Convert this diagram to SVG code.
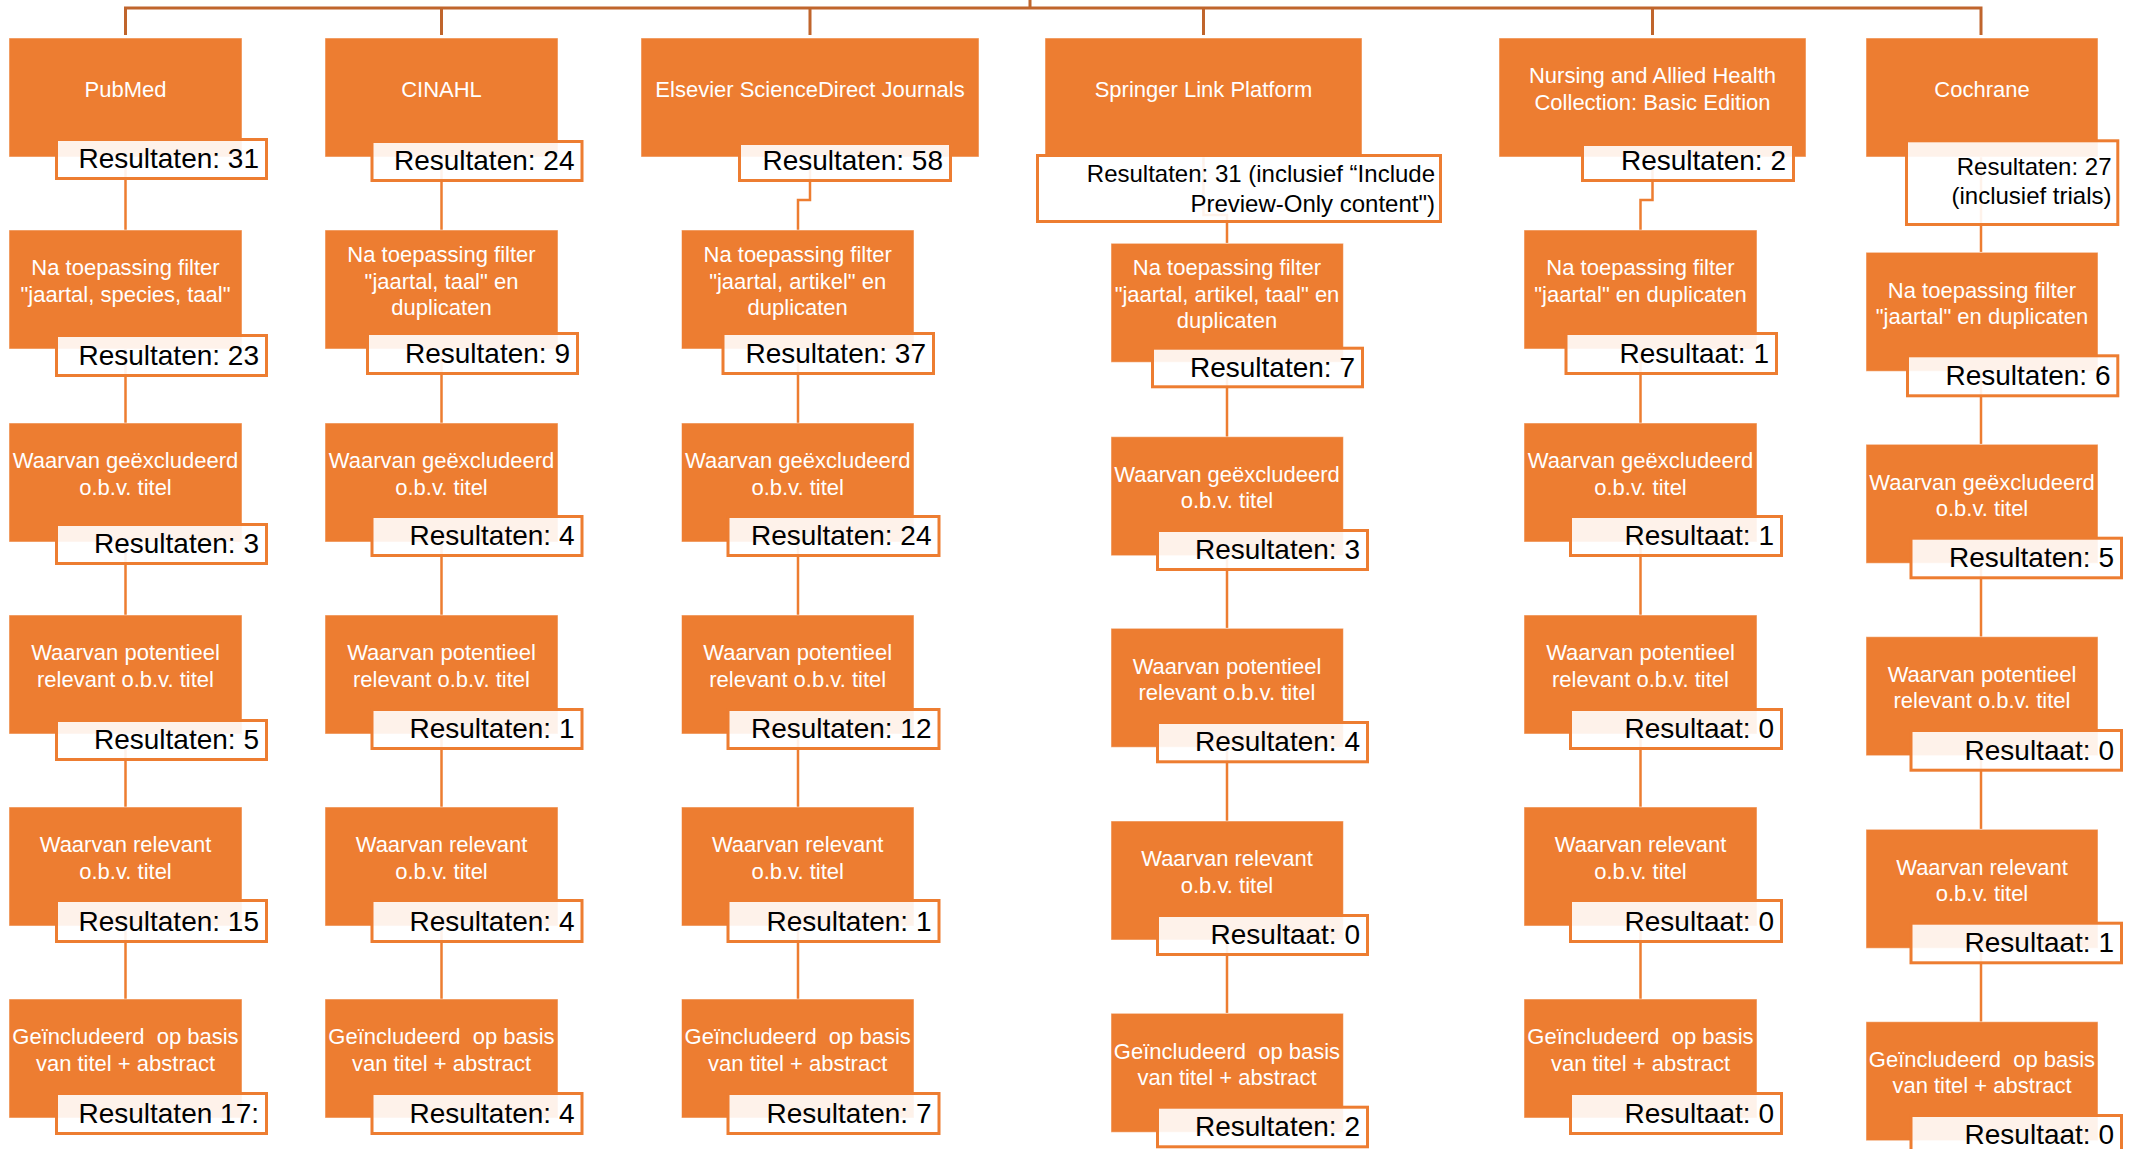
<svg xmlns="http://www.w3.org/2000/svg" width="2141" height="1149" viewBox="0 0 2141 1149">
<style>
.bg{fill:#fff}
.box{fill:#ED7D31;stroke:#fff;stroke-opacity:.5;stroke-width:1}
.res{fill:#fff;fill-opacity:.9;stroke:#ED7D31;stroke-width:3}
.lbl{font-family:"Liberation Sans",Arial,sans-serif;font-size:22px;fill:#fff;text-anchor:middle;white-space:pre}
.rt{font-family:"Liberation Sans",Arial,sans-serif;font-size:28px;fill:#000;text-anchor:end}
.rs{font-size:24px}
.conn{stroke:#ED7D31;stroke-width:2.5;fill:none}
.tree{stroke:#C0652C;stroke-width:3;fill:none}
</style>
<rect class="bg" x="0" y="0" width="2141" height="1149"/>
<g id="connectors">
<path class="tree" d="M1030 0V8M125.5 35V8H1981V35M441.5 8V35M810 8V35M1203.5 8V35M1652.5 8V35"/>
<path class="conn" d="M125.5 157V230M125.5 349V423M125.5 542V615M125.5 734V807M125.5 926V999"/>
<path class="conn" d="M441.5 157V230M441.5 349V423M441.5 542V615M441.5 734V807M441.5 926V999"/>
<path class="conn" d="M810 157V200H798V230M798 349V423M798 542V615M798 734V807M798 926V999"/>
<path class="conn" d="M1203.5 157V215H1227V243M1227 362V437M1227 556V628M1227 747V821M1227 940V1013"/>
<path class="conn" d="M1652.5 157V200H1640.5V230M1640.5 349V423M1640.5 542V615M1640.5 734V807M1640.5 926V999"/>
<path class="conn" d="M1981 157V252M1981 371V444M1981 563V637M1981 756V829M1981 948V1022"/>
</g>

<!-- Column 1: PubMed -->
<g id="pubmed">
<rect class="box" x="9" y="38" width="233" height="119"/>
<text class="lbl" x="125.5" y="96.5">PubMed</text>
<rect class="res" x="56.5" y="139.5" width="210" height="39"/>
<text class="rt" x="259" y="168">Resultaten: 31</text>
</g>
<g id="pubmed-filter">
<rect class="box" x="9" y="230" width="233" height="119"/>
<text class="lbl" x="125.5" y="275.25">Na toepassing filter</text>
<text class="lbl" x="125.5" y="301.75">"jaartal, species, taal"</text>
<rect class="res" x="56.5" y="335.5" width="210" height="40"/>
<text class="rt" x="259" y="365">Resultaten: 23</text>
</g>
<g id="pubmed-excl">
<rect class="box" x="9" y="423" width="233" height="119"/>
<text class="lbl" x="125.5" y="468.25">Waarvan geëxcludeerd</text>
<text class="lbl" x="125.5" y="494.75">o.b.v. titel</text>
<rect class="res" x="56.5" y="524.5" width="210" height="39"/>
<text class="rt" x="259" y="553">Resultaten: 3</text>
</g>
<g id="pubmed-pot">
<rect class="box" x="9" y="615" width="233" height="119"/>
<text class="lbl" x="125.5" y="660.25">Waarvan potentieel</text>
<text class="lbl" x="125.5" y="686.75">relevant o.b.v. titel</text>
<rect class="res" x="56.5" y="720.5" width="210" height="39"/>
<text class="rt" x="259" y="749">Resultaten: 5</text>
</g>
<g id="pubmed-rel">
<rect class="box" x="9" y="807" width="233" height="119"/>
<text class="lbl" x="125.5" y="852.25">Waarvan relevant</text>
<text class="lbl" x="125.5" y="878.75">o.b.v. titel</text>
<rect class="res" x="56.5" y="900.5" width="210" height="41"/>
<text class="rt" x="259" y="931">Resultaten: 15</text>
</g>
<g id="pubmed-incl">
<rect class="box" x="9" y="999" width="233" height="119"/>
<text class="lbl" x="125.5" y="1044.25">Geïncludeerd  op basis</text>
<text class="lbl" x="125.5" y="1070.75">van titel + abstract</text>
<rect class="res" x="56.5" y="1093.5" width="210" height="40"/>
<text class="rt" x="259" y="1123">Resultaten 17:</text>
</g>

<!-- Column 2: CINAHL -->
<g id="cinahl">
<rect class="box" x="325" y="38" width="233" height="119"/>
<text class="lbl" x="441.5" y="96.5">CINAHL</text>
<rect class="res" x="372" y="141.5" width="210" height="39"/>
<text class="rt" x="574.5" y="170">Resultaten: 24</text>
</g>
<g id="cinahl-filter">
<rect class="box" x="325" y="230" width="233" height="119"/>
<text class="lbl" x="441.5" y="262">Na toepassing filter</text>
<text class="lbl" x="441.5" y="288.5">"jaartal, taal" en</text>
<text class="lbl" x="441.5" y="315">duplicaten</text>
<rect class="res" x="367.5" y="333.5" width="210" height="40"/>
<text class="rt" x="570" y="363">Resultaten: 9</text>
</g>
<g id="cinahl-excl">
<rect class="box" x="325" y="423" width="233" height="119"/>
<text class="lbl" x="441.5" y="468.25">Waarvan geëxcludeerd</text>
<text class="lbl" x="441.5" y="494.75">o.b.v. titel</text>
<rect class="res" x="372" y="516.5" width="210" height="39"/>
<text class="rt" x="574.5" y="545">Resultaten: 4</text>
</g>
<g id="cinahl-pot">
<rect class="box" x="325" y="615" width="233" height="119"/>
<text class="lbl" x="441.5" y="660.25">Waarvan potentieel</text>
<text class="lbl" x="441.5" y="686.75">relevant o.b.v. titel</text>
<rect class="res" x="372" y="709.5" width="210" height="39"/>
<text class="rt" x="574.5" y="738">Resultaten: 1</text>
</g>
<g id="cinahl-rel">
<rect class="box" x="325" y="807" width="233" height="119"/>
<text class="lbl" x="441.5" y="852.25">Waarvan relevant</text>
<text class="lbl" x="441.5" y="878.75">o.b.v. titel</text>
<rect class="res" x="372" y="900.5" width="210" height="41"/>
<text class="rt" x="574.5" y="931">Resultaten: 4</text>
</g>
<g id="cinahl-incl">
<rect class="box" x="325" y="999" width="233" height="119"/>
<text class="lbl" x="441.5" y="1044.25">Geïncludeerd  op basis</text>
<text class="lbl" x="441.5" y="1070.75">van titel + abstract</text>
<rect class="res" x="372" y="1093.5" width="210" height="40"/>
<text class="rt" x="574.5" y="1123">Resultaten: 4</text>
</g>

<!-- Column 3: Elsevier -->
<g id="elsevier">
<rect class="box" x="641" y="38" width="338" height="119"/>
<text class="lbl" x="810" y="96.5">Elsevier ScienceDirect Journals</text>
<rect class="res" x="739.5" y="143.5" width="211" height="37"/>
<text class="rt" x="943" y="170">Resultaten: 58</text>
</g>
<g id="elsevier-filter">
<rect class="box" x="681.5" y="230" width="232.5" height="119"/>
<text class="lbl" x="797.7" y="262">Na toepassing filter</text>
<text class="lbl" x="797.7" y="288.5">"jaartal, artikel" en</text>
<text class="lbl" x="797.7" y="315">duplicaten</text>
<rect class="res" x="723" y="333.5" width="210.5" height="40"/>
<text class="rt" x="926" y="363">Resultaten: 37</text>
</g>
<g id="elsevier-excl">
<rect class="box" x="681.5" y="423" width="232.5" height="119"/>
<text class="lbl" x="797.7" y="468.25">Waarvan geëxcludeerd</text>
<text class="lbl" x="797.7" y="494.75">o.b.v. titel</text>
<rect class="res" x="728" y="516.5" width="211" height="39"/>
<text class="rt" x="931.5" y="545">Resultaten: 24</text>
</g>
<g id="elsevier-pot">
<rect class="box" x="681.5" y="615" width="232.5" height="119"/>
<text class="lbl" x="797.7" y="660.25">Waarvan potentieel</text>
<text class="lbl" x="797.7" y="686.75">relevant o.b.v. titel</text>
<rect class="res" x="728" y="709.5" width="211" height="39"/>
<text class="rt" x="931.5" y="738">Resultaten: 12</text>
</g>
<g id="elsevier-rel">
<rect class="box" x="681.5" y="807" width="232.5" height="119"/>
<text class="lbl" x="797.7" y="852.25">Waarvan relevant</text>
<text class="lbl" x="797.7" y="878.75">o.b.v. titel</text>
<rect class="res" x="728" y="900.5" width="211" height="41"/>
<text class="rt" x="931.5" y="931">Resultaten: 1</text>
</g>
<g id="elsevier-incl">
<rect class="box" x="681.5" y="999" width="232.5" height="119"/>
<text class="lbl" x="797.7" y="1044.25">Geïncludeerd  op basis</text>
<text class="lbl" x="797.7" y="1070.75">van titel + abstract</text>
<rect class="res" x="728" y="1093.5" width="211" height="40"/>
<text class="rt" x="931.5" y="1123">Resultaten: 7</text>
</g>

<!-- Column 4: Springer -->
<g id="springer">
<rect class="box" x="1045" y="38" width="317" height="119"/>
<text class="lbl" x="1203.5" y="96.5">Springer Link Platform</text>
<rect class="res" x="1037.5" y="155.5" width="403" height="66"/>
<text class="rt rs" x="1435" y="182">Resultaten: 31 (inclusief “Include</text>
<text class="rt rs" x="1435" y="212">Preview-Only content")</text>
</g>
<g id="springer-filter">
<rect class="box" x="1111" y="243.3" width="232.4" height="119"/>
<text class="lbl" x="1227" y="275.3">Na toepassing filter</text>
<text class="lbl" x="1227" y="301.8">"jaartal, artikel, taal" en</text>
<text class="lbl" x="1227" y="328.3">duplicaten</text>
<rect class="res" x="1152.5" y="348.2" width="210" height="38.6"/>
<text class="rt" x="1355" y="376.5">Resultaten: 7</text>
</g>
<g id="springer-excl">
<rect class="box" x="1111" y="436.7" width="232.4" height="119"/>
<text class="lbl" x="1227" y="481.95">Waarvan geëxcludeerd</text>
<text class="lbl" x="1227" y="508.45">o.b.v. titel</text>
<rect class="res" x="1157.5" y="530.5" width="210" height="39"/>
<text class="rt" x="1360" y="559">Resultaten: 3</text>
</g>
<g id="springer-pot">
<rect class="box" x="1111" y="628.3" width="232.4" height="119"/>
<text class="lbl" x="1227" y="673.55">Waarvan potentieel</text>
<text class="lbl" x="1227" y="700.05">relevant o.b.v. titel</text>
<rect class="res" x="1157.5" y="722.5" width="210" height="39.3"/>
<text class="rt" x="1360" y="751.3">Resultaten: 4</text>
</g>
<g id="springer-rel">
<rect class="box" x="1111" y="821" width="232.4" height="119"/>
<text class="lbl" x="1227" y="866.25">Waarvan relevant</text>
<text class="lbl" x="1227" y="892.75">o.b.v. titel</text>
<rect class="res" x="1157.5" y="915.5" width="210" height="39"/>
<text class="rt" x="1360" y="944">Resultaat: 0</text>
</g>
<g id="springer-incl">
<rect class="box" x="1111" y="1013.3" width="232.4" height="119"/>
<text class="lbl" x="1227" y="1058.55">Geïncludeerd  op basis</text>
<text class="lbl" x="1227" y="1085.05">van titel + abstract</text>
<rect class="res" x="1157.5" y="1107.2" width="210" height="39.6"/>
<text class="rt" x="1360" y="1136.3">Resultaten: 2</text>
</g>

<!-- Column 5: Nursing -->
<g id="nursing">
<rect class="box" x="1499" y="38" width="307" height="119"/>
<text class="lbl" x="1652.5" y="83.25">Nursing and Allied Health</text>
<text class="lbl" x="1652.5" y="109.75">Collection: Basic Edition</text>
<rect class="res" x="1582.5" y="144.5" width="211" height="36"/>
<text class="rt" x="1786" y="170">Resultaten: 2</text>
</g>
<g id="nursing-filter">
<rect class="box" x="1524" y="230" width="233" height="119"/>
<text class="lbl" x="1640.5" y="275.25">Na toepassing filter</text>
<text class="lbl" x="1640.5" y="301.75">"jaartal" en duplicaten</text>
<rect class="res" x="1566" y="333.5" width="210.5" height="40"/>
<text class="rt" x="1769" y="363">Resultaat: 1</text>
</g>
<g id="nursing-excl">
<rect class="box" x="1524" y="423" width="233" height="119"/>
<text class="lbl" x="1640.5" y="468.25">Waarvan geëxcludeerd</text>
<text class="lbl" x="1640.5" y="494.75">o.b.v. titel</text>
<rect class="res" x="1570.5" y="516.5" width="211" height="39"/>
<text class="rt" x="1774" y="545">Resultaat: 1</text>
</g>
<g id="nursing-pot">
<rect class="box" x="1524" y="615" width="233" height="119"/>
<text class="lbl" x="1640.5" y="660.25">Waarvan potentieel</text>
<text class="lbl" x="1640.5" y="686.75">relevant o.b.v. titel</text>
<rect class="res" x="1570.5" y="709.5" width="211" height="39"/>
<text class="rt" x="1774" y="738">Resultaat: 0</text>
</g>
<g id="nursing-rel">
<rect class="box" x="1524" y="807" width="233" height="119"/>
<text class="lbl" x="1640.5" y="852.25">Waarvan relevant</text>
<text class="lbl" x="1640.5" y="878.75">o.b.v. titel</text>
<rect class="res" x="1570.5" y="900.5" width="211" height="41"/>
<text class="rt" x="1774" y="931">Resultaat: 0</text>
</g>
<g id="nursing-incl">
<rect class="box" x="1524" y="999" width="233" height="119"/>
<text class="lbl" x="1640.5" y="1044.25">Geïncludeerd  op basis</text>
<text class="lbl" x="1640.5" y="1070.75">van titel + abstract</text>
<rect class="res" x="1570.5" y="1093.5" width="211" height="40"/>
<text class="rt" x="1774" y="1123">Resultaat: 0</text>
</g>

<!-- Column 6: Cochrane -->
<g id="cochrane">
<rect class="box" x="1866" y="38" width="232" height="119"/>
<text class="lbl" x="1982" y="96.5">Cochrane</text>
<rect class="res" x="1906.5" y="140.8" width="211.3" height="83.7"/>
<text class="rt rs" x="2111.5" y="175">Resultaten: 27</text>
<text class="rt rs" x="2111.5" y="203.5">(inclusief trials)</text>
</g>
<g id="cochrane-filter">
<rect class="box" x="1866" y="252.3" width="232" height="119"/>
<text class="lbl" x="1982" y="297.55">Na toepassing filter</text>
<text class="lbl" x="1982" y="324.05">"jaartal" en duplicaten</text>
<rect class="res" x="1907.5" y="355.8" width="210.3" height="40"/>
<text class="rt" x="2110.5" y="385.3">Resultaten: 6</text>
</g>
<g id="cochrane-excl">
<rect class="box" x="1866" y="444.3" width="232" height="119"/>
<text class="lbl" x="1982" y="489.55">Waarvan geëxcludeerd</text>
<text class="lbl" x="1982" y="516.05">o.b.v. titel</text>
<rect class="res" x="1911" y="538.2" width="210.5" height="39.6"/>
<text class="rt" x="2114" y="567.3">Resultaten: 5</text>
</g>
<g id="cochrane-pot">
<rect class="box" x="1866" y="636.7" width="232" height="119"/>
<text class="lbl" x="1982" y="681.95">Waarvan potentieel</text>
<text class="lbl" x="1982" y="708.45">relevant o.b.v. titel</text>
<rect class="res" x="1911" y="730.5" width="210.5" height="39.7"/>
<text class="rt" x="2114" y="759.7">Resultaat: 0</text>
</g>
<g id="cochrane-rel">
<rect class="box" x="1866" y="829.3" width="232" height="119"/>
<text class="lbl" x="1982" y="874.55">Waarvan relevant</text>
<text class="lbl" x="1982" y="901.05">o.b.v. titel</text>
<rect class="res" x="1911" y="923.2" width="210.5" height="39.6"/>
<text class="rt" x="2114" y="952.3">Resultaat: 1</text>
</g>
<g id="cochrane-incl">
<rect class="box" x="1866" y="1021.7" width="232" height="119"/>
<text class="lbl" x="1982" y="1066.95">Geïncludeerd  op basis</text>
<text class="lbl" x="1982" y="1093.45">van titel + abstract</text>
<rect class="res" x="1911" y="1115.5" width="210.5" height="40"/>
<text class="rt" x="2114" y="1144">Resultaat: 0</text>
</g>
</svg>
